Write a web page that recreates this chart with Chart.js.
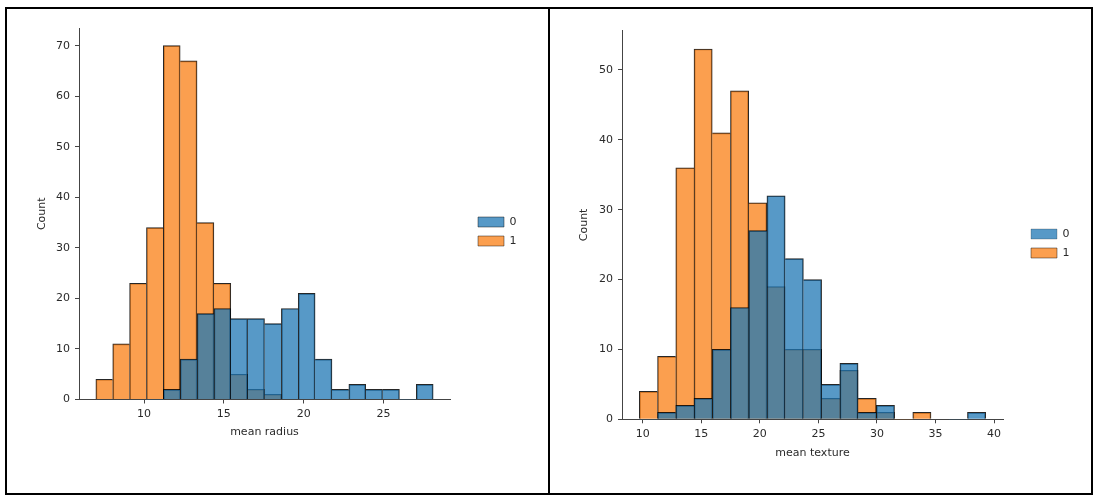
<!DOCTYPE html>
<html>
<head>
<meta charset="utf-8">
<script src="https://cdn.jsdelivr.net/npm/chart.js@4.4.1/dist/chart.umd.min.js"></script>
<style>
html,body{margin:0;padding:0;background:#fff;}
#wrap{position:relative;width:1100px;height:501px;overflow:hidden;background:#fff;}
canvas{position:absolute;top:0;}
#c1{left:0;width:549px;height:501px;}
#c2{left:549px;width:551px;height:501px;}
.frame{position:absolute;left:5px;top:7px;width:1088px;height:488px;border:2px solid #000;box-sizing:border-box;pointer-events:none;}
.divider{position:absolute;left:548px;top:7px;width:2px;height:488px;background:#000;pointer-events:none;}
</style>
</head>
<body>
<div id="wrap">
  <canvas id="c1" width="549" height="501"></canvas>
  <canvas id="c2" width="551" height="501"></canvas>
  <div class="frame"></div>
  <div class="divider"></div>
</div>
<script>
// ---------- DATA ----------
const seriesLabels = ['0', '1'];

// mean radius: 20 bins (6.981 .. 28.11), bin centres
const radiusBins = [7.509, 8.566, 9.622, 10.679, 11.735, 12.792, 13.848, 14.905, 15.961, 17.018,
                    18.074, 19.131, 20.187, 21.244, 22.300, 23.357, 24.413, 25.470, 26.526, 27.583];
const radiusCount0 = [0, 0, 0, 0, 2, 8, 17, 18, 16, 16, 15, 18, 21, 8, 2, 3, 2, 2, 0, 3];
const radiusCount1 = [4, 11, 23, 34, 70, 67, 35, 23, 5, 2, 1, 0, 0, 0, 0, 0, 0, 0, 0, 0];
const radiusXTicks = [10, 15, 20, 25];
const radiusYTicks = [0, 10, 20, 30, 40, 50, 60, 70];

// mean texture: 19 bins (9.71 .. 39.28), bin centres
const textureBins = [10.488, 12.044, 13.601, 15.157, 16.713, 18.270, 19.826, 21.382, 22.939, 24.495,
                     26.051, 27.608, 29.164, 30.720, 32.277, 33.833, 35.389, 36.946, 38.502];
const textureCount0 = [0, 1, 2, 3, 10, 16, 27, 32, 23, 20, 5, 8, 1, 2, 0, 0, 0, 0, 1];
const textureCount1 = [4, 9, 36, 53, 41, 47, 31, 19, 10, 10, 3, 7, 3, 1, 0, 1, 0, 0, 0];
const textureXTicks = [10, 15, 20, 25, 30, 35, 40];
const textureYTicks = [0, 10, 20, 30, 40, 50];

// ---------- STYLE ----------
const BLUE = 'rgba(31,119,180,0.75)';
const ORANGE = 'rgba(250,127,20,0.75)';
const EDGE = 'rgba(0,0,0,0.85)';
const AXIS = '#444';
const TEXT = '#2a2a2a';
const FONT = {family: 'DejaVu Sans', size: 11};

Chart.defaults.font.family = 'DejaVu Sans';
Chart.defaults.font.size = 11;

const legendPlace = {
  id: 'legendPlace',
  afterLayout(chart, args, opts) {
    const lg = chart.legend;
    if (!lg) return;
    const w = lg.width;
    lg.left = opts.x; lg.right = opts.x + w;
    lg.top = opts.y; lg.bottom = opts.y + 200;
  }
};

function edgeWidth(ctx) {
  if (ctx.type !== 'data') return 1;
  const d = ctx.dataset.data, i = ctx.dataIndex;
  const c = d[i].y;
  const prev = i > 0 ? d[i - 1].y : 0;
  const next = i < d.length - 1 ? d[i + 1].y : 0;
  return {top: 1, bottom: 0, left: c > prev ? 1 : 0, right: c >= next ? 1 : 0};
}

function makeDataset(label, bins, counts, color) {
  return {
    label: label,
    data: bins.map((b, i) => ({x: b, y: counts[i]})),
    backgroundColor: color,
    borderColor: EDGE,
    borderWidth: edgeWidth,
    borderSkipped: false,
    barPercentage: 1,
    categoryPercentage: 1,
    grouped: false
  };
}

function makeHist(id, g) {
  return new Chart(document.getElementById(id), {
    type: 'bar',
    data: {
      datasets: [
        makeDataset(seriesLabels[0], g.bins, g.c0, BLUE),
        makeDataset(seriesLabels[1], g.bins, g.c1, ORANGE)
      ]
    },
    options: {
      responsive: false,
      animation: false,
      devicePixelRatio: 1,
      layout: {padding: g.pad},
      plugins: {
        tooltip: {enabled: false},
        legend: {
          position: 'chartArea',
          align: 'start',
          labels: {boxWidth: 26, boxHeight: 10, padding: 8, color: TEXT, font: FONT}
        },
        legendPlace: {x: g.legX, y: g.legY}
      },
      scales: {
        x: {
          type: 'linear',
          min: g.xMin, max: g.xMax,
          offset: false,
          afterBuildTicks: s => { s.ticks = g.xTicks.map(v => ({value: v})); },
          afterFit: s => { s.height = 50; },
          grid: {display: true, offset: false, drawOnChartArea: false, drawTicks: true, tickLength: 4, tickColor: AXIS, tickWidth: 1},
          border: {display: true, color: AXIS, width: 1},
          ticks: {color: TEXT, font: FONT, padding: 4, maxRotation: 0, autoSkip: false},
          title: {display: true, text: g.xTitle, color: TEXT, font: FONT, padding: {top: 0, bottom: g.xtPad}}
        },
        y: {
          type: 'linear',
          min: 0, max: g.yMax,
          afterBuildTicks: s => { s.ticks = g.yTicks.map(v => ({value: v})); },
          afterFit: s => { s.width = g.yWidth; },
          grid: {display: true, drawOnChartArea: false, drawTicks: true, tickLength: 4, tickColor: AXIS, tickWidth: 1},
          border: {display: true, color: AXIS, width: 1},
          ticks: {color: TEXT, font: FONT, padding: 5},
          title: {display: true, text: 'Count', color: TEXT, font: FONT, padding: {top: g.ytPad, bottom: 0}}
        }
      }
    },
    plugins: [legendPlace]
  });
}

makeHist('c1', {
  bins: radiusBins, c0: radiusCount0, c1: radiusCount1,
  xTicks: radiusXTicks, yTicks: radiusYTicks,
  xMin: 5.925, xMax: 29.166, yMax: 73.5,
  xTitle: 'mean radius',
  pad: {left: 0, top: 28, right: 99, bottom: 51.5},
  yWidth: 79, ytPad: 36, xtPad: 10.9,
  legX: 470, legY: 208.5
});

makeHist('c2', {
  bins: textureBins, c0: textureCount0, c1: textureCount1,
  xTicks: textureXTicks, yTicks: textureYTicks,
  xMin: 8.2315, xMax: 40.7585, yMax: 55.65,
  xTitle: 'mean texture',
  pad: {left: 0, top: 30.5, right: 97, bottom: 31.7},
  yWidth: 73, ytPad: 28.4, xtPad: 9.7,
  legX: 474, legY: 220.5
});
</script>
</body>
</html>
